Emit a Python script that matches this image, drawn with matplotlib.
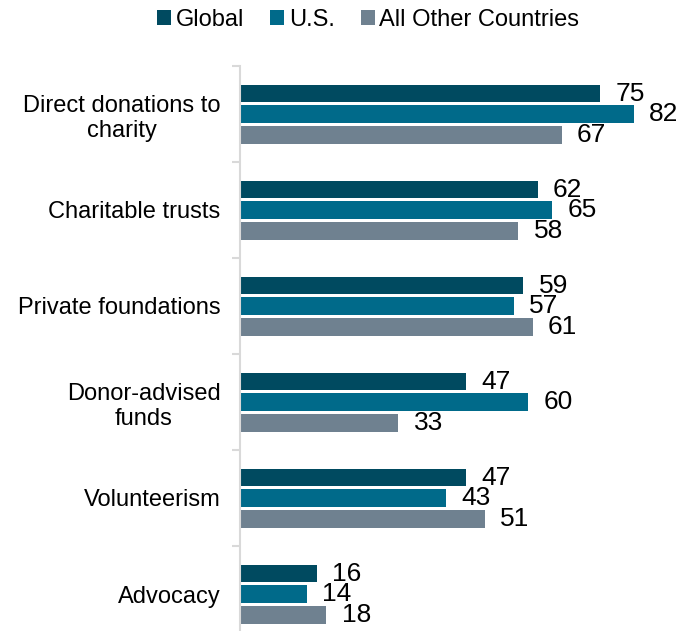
import numpy as np
import matplotlib.pyplot as plt
from matplotlib.patches import Patch

plt.rcParams['font.family'] = ['Liberation Sans', 'DejaVu Sans']

categories = ['Direct donations to\ncharity', 'Charitable trusts', 'Private foundations',
              'Donor-advised\nfunds', 'Volunteerism', 'Advocacy']
series_names = ['Global', 'U.S.', 'All Other Countries']
global_vals = [75, 62, 59, 47, 47, 16]
us_vals = [82, 65, 57, 60, 43, 14]
other_vals = [67, 58, 61, 33, 51, 18]

colors = ['#004A60', '#006A8A', '#6F8190']
offsets = [-0.21, 0.0, 0.22]
bar_h = 0.18

fig = plt.figure(figsize=(6.95, 6.31), dpi=100)
ax = fig.add_axes([240 / 695, 0.0, 440 / 695, 1 - 66 / 631])

y = np.arange(len(categories))
for vals, col, off in zip([global_vals, us_vals, other_vals], colors, offsets):
    bars = ax.barh(y + off, vals, height=bar_h, color=col)
    for b, v in zip(bars, vals):
        ax.annotate(str(v), (b.get_width(), b.get_y() + b.get_height() / 2),
                    xytext=(11, 0), textcoords='offset points',
                    va='center', ha='left', fontsize=19, color='black')

ax.set_xlim(0, 440 / 4.8)
ax.set_ylim(5.5 - 11 / 96, -0.5)

for s in ['top', 'right', 'bottom']:
    ax.spines[s].set_visible(False)
ax.spines['left'].set_color('#D9D9D9')
ax.spines['left'].set_linewidth(1.5)
ax.set_xticks([])

ax.set_yticks(y)
ax.set_yticklabels(categories, fontsize=17, ha='right', multialignment='center')
ax.set_yticks(np.arange(-0.5, 5.5, 1), minor=True)
ax.tick_params(axis='y', which='major', length=0, pad=14)
ax.tick_params(axis='y', which='minor', length=6, width=1.5, color='#D9D9D9')

handles = [Patch(facecolor=c, label=n) for c, n in zip(colors, series_names)]
fig.legend(handles=handles, loc='center', bbox_to_anchor=(368 / 695, 1 - 20 / 631),
           ncol=3, frameon=False, fontsize=17, handlelength=0.6, handleheight=0.6,
           handletextpad=0.2, columnspacing=1.1, borderpad=0)

fig.savefig('out.png', dpi=100)
